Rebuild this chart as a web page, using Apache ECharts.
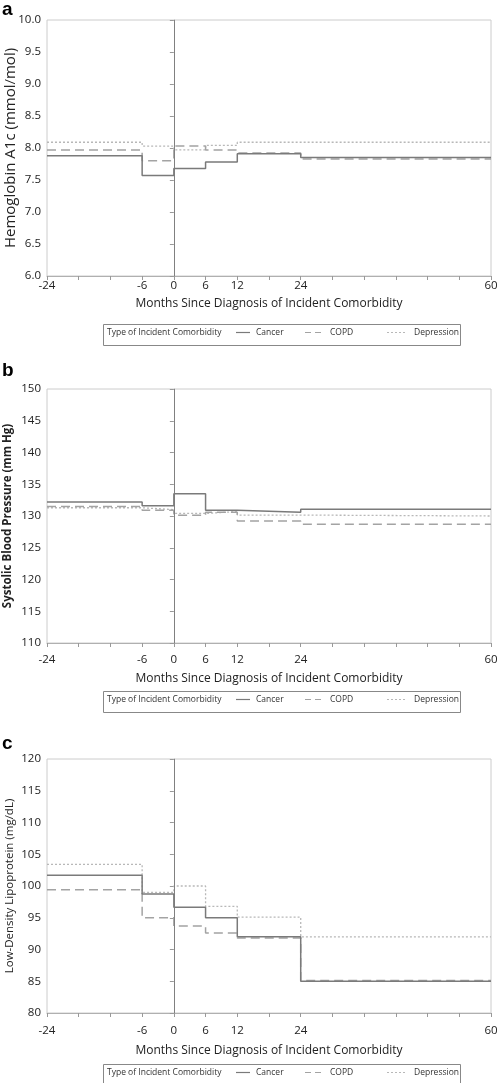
<!DOCTYPE html>
<html>
<head>
<meta charset="utf-8">
<script src="https://cdn.jsdelivr.net/npm/echarts@6/dist/echarts.min.js"></script>
<style>
html,body{margin:0;padding:0;background:#fff;}
#chart{width:499px;height:1083px;}
</style>
</head>
<body>
<div id="chart"></div>
<script>
// ---- data ----
var stepStarts = [-24, -6, 0, 6, 12, 24];
var endMonth = 60;
var xTickLabels = [-24, -6, 0, 6, 12, 24, 60];
var seriesNames = ['Cancer', 'COPD', 'Depression'];

var hba1cCancer     = [7.88, 7.57, 7.68, 7.78, 7.91, 7.85];
var hba1cCOPD       = [7.97, 7.80, 8.03, 7.97, 7.92, 7.83];
var hba1cDepression = [8.09, 8.03, 7.97, 8.04, 8.09, 8.09];

var sbpCancer     = [132.2, 131.6, 133.5, 130.9, 130.6, 131.05];
var sbpCOPD       = [131.5, 130.9, 130.1, 130.6, 129.2, 128.7];
var sbpDepression = [131.3, 131.0, 130.4, 130.7, 130.15, 130.0];

var ldlCancer     = [101.7, 98.75, 96.65, 95.0, 92.0, 85.0];
var ldlCOPD       = [99.4, 95.0, 93.7, 92.6, 91.8, 85.1];
var ldlDepression = [103.4, 99.0, 100.0, 96.8, 95.1, 92.0];

var panelLetters = ['a', 'b', 'c'];
var yTitles = ['Hemoglobin A1c (mmol/mol)', 'Systolic Blood Pressure (mm Hg)', 'Low-Density Lipoprotein (mg/dL)'];
var xTitle = 'Months Since Diagnosis of Incident Comorbidity';
var legendTitle = 'Type of Incident Comorbidity';

// ---- layout ----
var FONT = '"Open Sans", "Noto Sans", sans-serif';
var panels = [
  {top: 20, bottom: 276, yMin: 6, yMax: 10, yInt: 0.5, dec: 1, labMargin: 4, titleGap: 22, yTitleSize: 15, yTitleWeight: 'normal', yTitleGap: 29, legendY: 322, letterY: 0,
   data: [hba1cCancer, hba1cCOPD, hba1cDepression]},
  {top: 389, bottom: 643, yMin: 110, yMax: 150, yInt: 5, dec: 0, labMargin: 11, titleGap: 30, yTitleSize: 11.5, yTitleWeight: 'bold', yTitleGap: 33, legendY: 689, letterY: 361,
   data: [sbpCancer, sbpCOPD, sbpDepression]},
  {top: 759, bottom: 1013, yMin: 80, yMax: 120, yInt: 5, dec: 0, labMargin: 12, titleGap: 32, yTitleSize: 11.5, yTitleWeight: 'normal', yTitleGap: 31, legendY: 1062, letterY: 734,
   data: [ldlCancer, ldlCOPD, ldlDepression]}
];
var styles = [
  {color: '#7a7a7a', width: 1.5, type: 'solid', dash: null},
  {color: '#a3a3a3', width: 1.5, type: [9, 5], dash: [6, 4]},
  {color: '#b8b8b8', width: 1.3, type: [2, 2], dash: [2, 2]}
];
var legendItems = [
  {x0: 236, x1: 250, tx: 256},
  {x0: 305, x1: 323, tx: 330},
  {x0: 387, x1: 407, tx: 414}
];

function stepData(vals) {
  var d = stepStarts.map(function (m, i) { return [m, vals[i]]; });
  d.push([endMonth, vals[vals.length - 1]]);
  return d;
}

var grid = [], xAxis = [], yAxis = [], series = [], graphic = [];
panels.forEach(function (p, k) {
  grid.push({left: 47, right: 8, top: p.top, height: p.bottom - p.top, show: true,
    borderColor: '#cccccc', borderWidth: 1, containLabel: false, outerBoundsMode: 'none'});
  xAxis.push({
    type: 'value', gridIndex: k, min: -24, max: 60, interval: 6,
    name: xTitle, nameLocation: 'middle', nameGap: p.titleGap, nameMoveOverlap: false,
    nameTextStyle: {fontFamily: FONT, fontSize: 12, color: '#222'},
    axisLine: {show: true, lineStyle: {color: '#b0b0b0'}},
    axisTick: {show: true, length: 4, lineStyle: {color: '#999'}},
    splitLine: {show: false},
    axisLabel: {
      margin: p.labMargin, fontFamily: FONT, fontSize: 11.5, color: '#222',
      formatter: function (v) { return xTickLabels.indexOf(v) >= 0 ? String(v) : ''; }
    }
  });
  yAxis.push({
    type: 'value', gridIndex: k, min: p.yMin, max: p.yMax, interval: p.yInt,
    name: yTitles[k], nameLocation: 'middle', nameGap: p.yTitleGap, nameMoveOverlap: false,
    nameTextStyle: {fontFamily: FONT, fontSize: p.yTitleSize, fontWeight: p.yTitleWeight, color: '#222'},
    axisLine: {show: true, lineStyle: {color: '#b0b0b0'}},
    axisTick: {show: true, length: 4, lineStyle: {color: '#999'}},
    splitLine: {show: false},
    axisLabel: {margin: 6, fontFamily: FONT, fontSize: 11.5, color: '#222',
      formatter: function (v) { return v.toFixed(p.dec); }}
  });
  p.data.forEach(function (vals, j) {
    var s = {
      name: seriesNames[j], type: 'line', xAxisIndex: k, yAxisIndex: k,
      step: 'end', symbol: 'none', showSymbol: false, animation: false, z: 5 - j,
      lineStyle: {color: styles[j].color, width: styles[j].width, type: styles[j].type},
      itemStyle: {color: styles[j].color},
      data: stepData(vals)
    };
    if (j === 0) {
      s.markLine = {silent: true, symbol: 'none', label: {show: false}, animation: false,
        lineStyle: {color: '#808080', width: 1, type: 'solid'},
        data: [{xAxis: 0}]};
    }
    series.push(s);
  });
  var cy = p.legendY + 10.5;
  graphic.push({type: 'rect', left: 101, top: p.legendY, shape: {width: 357, height: 21},
    style: {fill: 'none', stroke: '#888', lineWidth: 1}, silent: true});
  graphic.push({type: 'text', x: 107, y: cy,
    style: {text: legendTitle, font: '8.5px ' + FONT, fill: '#333', verticalAlign: 'middle'}, silent: true});
  legendItems.forEach(function (it, j) {
    graphic.push({type: 'line', shape: {x1: it.x0, y1: cy, x2: it.x1, y2: cy},
      style: {stroke: styles[j].color, lineWidth: 1.2, lineDash: styles[j].dash}, silent: true});
    graphic.push({type: 'text', x: it.tx, y: cy,
      style: {text: seriesNames[j], font: '8.5px ' + FONT, fill: '#333', verticalAlign: 'middle'}, silent: true});
  });
  graphic.push({type: 'text', left: 2, top: p.letterY,
    style: {text: panelLetters[k], font: 'bold 19px "Liberation Sans", Arial, sans-serif', fill: '#000'}, silent: true});
});

var chart = echarts.init(document.getElementById('chart'), null, {renderer: 'canvas'});
chart.setOption({
  animation: false,
  backgroundColor: '#ffffff',
  grid: grid, xAxis: xAxis, yAxis: yAxis, series: series, graphic: graphic
});
</script>
</body>
</html>
